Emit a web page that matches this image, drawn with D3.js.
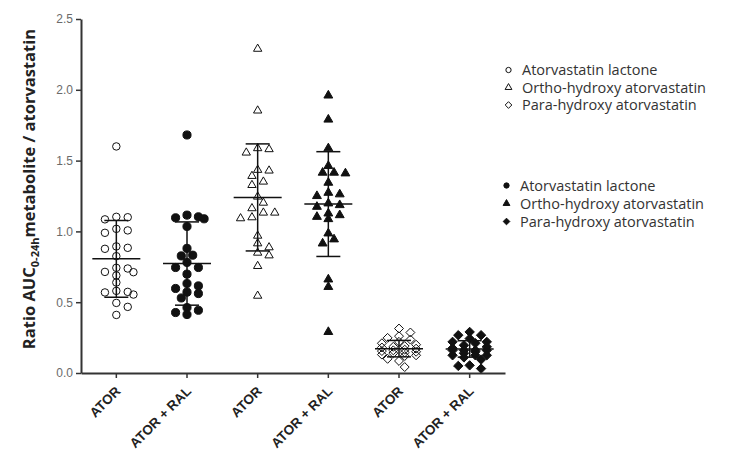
<!DOCTYPE html>
<html>
<head>
<meta charset="utf-8">
<script src="https://cdn.jsdelivr.net/npm/d3@7/dist/d3.min.js"></script>
<style>
  body { margin: 0; background: #fff; }
  svg { display: block; font-family: "Open Sans", "Noto Sans", sans-serif; }
</style>
</head>
<body>
<script>
// group labels along x
var categories = ["ATOR", "ATOR + RAL", "ATOR", "ATOR + RAL", "ATOR", "ATOR + RAL"];

// ratio values, one array per column
var lactoneAtor = [1.60, 1.103, 1.085, 1.10, 1.007, 0.99, 1.018, 0.884, 0.877, 0.894, 0.825, 0.738,
                   0.743, 0.712, 0.689, 0.714, 0.639, 0.573, 0.58, 0.554, 0.569, 0.495, 0.467, 0.41];
var lactoneAtorRal = [1.681, 1.115, 1.103, 1.096, 1.089, 1.035, 0.88, 0.832, 0.827, 0.781, 0.745, 0.745,
                      0.698, 0.632, 0.615, 0.597, 0.571, 0.561, 0.53, 0.462, 0.443, 0.427, 0.413];
var orthoAtor = [2.289, 1.853, 1.587, 1.556, 1.58, 1.434, 1.429, 1.391, 1.351, 1.327, 1.245, 1.202,
                 1.132, 1.163, 1.132, 1.092, 1.099, 0.969, 0.915, 0.887, 0.83, 0.849, 0.755, 0.545];
var orthoAtorRal = [1.96, 1.79, 1.587, 1.462, 1.415, 1.41, 1.415, 1.344, 1.273, 1.262, 1.25, 1.198,
                    1.186, 1.174, 1.127, 1.115, 1.103, 1.087, 0.986, 0.944, 0.915, 0.661, 0.608, 0.29];
var paraAtor = [0.314, 0.286, 0.26, 0.248, 0.236, 0.22, 0.21, 0.20, 0.19, 0.185, 0.18, 0.172,
                0.165, 0.16, 0.155, 0.15, 0.145, 0.14, 0.13, 0.125, 0.12, 0.10, 0.085, 0.042];
var paraAtorRal = [0.29, 0.267, 0.267, 0.243, 0.22, 0.22, 0.21, 0.196, 0.185, 0.175, 0.16, 0.16,
                   0.16, 0.16, 0.15, 0.14, 0.125, 0.125, 0.125, 0.11, 0.095, 0.054, 0.031, 0.05];

// mean and SD drawn as bars
var means = [0.806, 0.773, 1.24, 1.193, 0.172, 0.170];
var sds = [0.271, 0.294, 0.378, 0.370, 0.058, 0.058];

var yTicks = [0, 0.5, 1.0, 1.5, 2.0, 2.5];
var legendLabels = ["Atorvastatin lactone", "Ortho-hydroxy atorvastatin", "Para-hydroxy atorvastatin"];

var W = 732, H = 455;

var svg = d3.select("body").append("svg")
    .attr("width", W)
    .attr("height", H);

var y = d3.scaleLinear().domain([0, 2.5]).range([373, 19]);
var x = d3.scaleBand().domain(d3.range(categories.length)).range([81, 505]);

// diamond as a square turned 45 degrees
var diamond = {
    draw: function(ctx, size) {
        var r = Math.sqrt(size / 2);
        ctx.moveTo(0, -r);
        ctx.lineTo(r, 0);
        ctx.lineTo(0, r);
        ctx.lineTo(-r, 0);
        ctx.closePath();
    }
};

var groups = [
    {values: lactoneAtor, type: d3.symbolCircle, size: 44, filled: false},
    {values: lactoneAtorRal, type: d3.symbolCircle, size: 52, filled: true},
    {values: orthoAtor, type: d3.symbolTriangle, size: 30, filled: false},
    {values: orthoAtorRal, type: d3.symbolTriangle, size: 34, filled: true},
    {values: paraAtor, type: diamond, size: 40, filled: false},
    {values: paraAtorRal, type: diamond, size: 44, filled: true}
];

// simple beeswarm, capped at 3 columns each side (overlap allowed beyond)
function swarm(values, cx) {
    var step = 5.7, rx = 10, ry = 7, maxK = 6;
    var pts = values.map(function(v) { return {v: v, y: y(v)}; })
                    .sort(function(a, b) { return a.y - b.y; });
    var placed = [];
    pts.forEach(function(p) {
        var best = 0, bestPen = Infinity;
        for (var k = 0; k <= maxK; k++) {
            var o = k === 0 ? 0 : (k % 2 ? 1 : -1) * Math.ceil(k / 2) * step;
            var pen = 0;
            placed.forEach(function(q) {
                var dx = (q.off - o) / rx, dy = (q.y - p.y) / ry;
                pen += Math.max(0, 1 - (dx * dx + dy * dy));
            });
            if (pen < bestPen - 1e-9) { bestPen = pen; best = o; }
            if (pen === 0) break;
        }
        p.off = best;
        p.x = cx + best;
        placed.push(p);
    });
    return placed;
}

var plot = svg.append("g");

groups.forEach(function(g, i) {
    var cx = x(i) + x.bandwidth() / 2;
    var pts = swarm(g.values, cx);
    plot.append("g").selectAll("path")
        .data(pts)
        .enter()
        .append("path")
        .attr("d", d3.symbol().type(g.type).size(g.size))
        .attr("transform", function(d) { return "translate(" + d.x + "," + d.y + ")"; })
        .attr("fill", g.filled ? "#111" : "none")
        .attr("stroke", "#111")
        .attr("stroke-width", 1);
});

// mean +/- SD bars
var bars = plot.append("g")
    .attr("stroke", "#111")
    .attr("stroke-width", 1.5)
    .attr("fill", "none");

means.forEach(function(m, i) {
    var cx = x(i) + x.bandwidth() / 2;
    var top = y(m + sds[i]), bot = y(m - sds[i]);
    bars.append("line").attr("x1", cx).attr("x2", cx).attr("y1", top).attr("y2", bot);
    bars.append("line").attr("x1", cx - 12).attr("x2", cx + 12).attr("y1", top).attr("y2", top);
    bars.append("line").attr("x1", cx - 12).attr("x2", cx + 12).attr("y1", bot).attr("y2", bot);
    bars.append("line").attr("x1", cx - 24).attr("x2", cx + 24).attr("y1", y(m)).attr("y2", y(m));
});

// axes
var yAxis = svg.append("g")
    .attr("transform", "translate(81,0)")
    .call(d3.axisLeft(y).tickValues(yTicks).tickFormat(d3.format(".1f")).tickSize(5).tickSizeOuter(0).tickPadding(3));

yAxis.select(".domain").attr("stroke", "#333").attr("stroke-width", 2);
yAxis.selectAll(".tick line").attr("stroke", "#333").attr("stroke-width", 1.5);
yAxis.selectAll(".tick text")
    .attr("fill", "#6a6a6a")
    .style("font-size", "12px");

var xAxis = svg.append("g")
    .attr("transform", "translate(0,373)")
    .call(d3.axisBottom(x).tickFormat(function(d) { return categories[d]; }).tickSize(5).tickSizeOuter(0));

xAxis.select(".domain").attr("stroke", "#333").attr("stroke-width", 2);
xAxis.selectAll(".tick line").attr("stroke", "#333").attr("stroke-width", 1.5);
xAxis.selectAll(".tick text")
    .attr("x", 0)
    .attr("y", 0)
    .attr("dy", 0)
    .attr("transform", "translate(5,19) rotate(-45)")
    .style("text-anchor", "end")
    .style("font-size", "13.5px")
    .style("font-weight", "bold")
    .attr("fill", "#222");

// y axis title with subscript
var yTitle = svg.append("text")
    .attr("transform", "translate(35,189) rotate(-90)")
    .attr("text-anchor", "middle")
    .style("font-weight", "bold")
    .style("font-size", "16.5px")
    .attr("fill", "#222");

yTitle.append("tspan").text("Ratio AUC");
yTitle.append("tspan").attr("dy", 4).style("font-size", "11px").text("0-24h");
yTitle.append("tspan").attr("dy", -4).text("metabolite / atorvastatin");

// legends
var legendTypes = [d3.symbolCircle, d3.symbolTriangle, diamond];

function drawLegend(sx, tx, baselines, filled) {
    var lg = svg.append("g");
    legendLabels.forEach(function(lab, i) {
        lg.append("path")
            .attr("d", d3.symbol().type(legendTypes[i]).size(i === 1 ? 20 : 22))
            .attr("transform", "translate(" + sx + "," + (baselines[i] - 5) + ")")
            .attr("fill", filled ? "#111" : "none")
            .attr("stroke", "#111")
            .attr("stroke-width", 1);
        lg.append("text")
            .attr("x", tx)
            .attr("y", baselines[i])
            .style("font-size", "14.5px")
            .attr("fill", "#333")
            .text(lab);
    });
}

drawLegend(508.5, 522, [75, 92.5, 110], false);
drawLegend(506.5, 520, [190.5, 208.5, 226.5], true);
</script>
</body>
</html>
